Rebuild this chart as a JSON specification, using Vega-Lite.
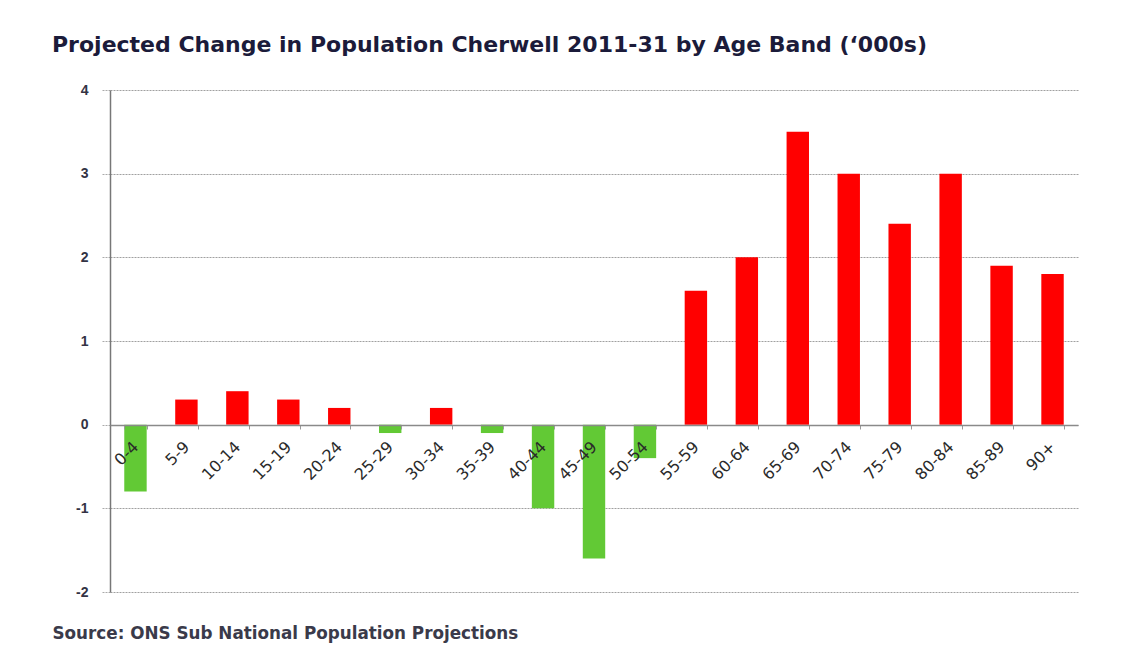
{
  "$schema": "https://vega.github.io/schema/vega-lite/v6.json",
  "width": 968,
  "height": 502,
  "autosize": {"type": "none"},
  "padding": {"left": 110, "top": 90, "right": 49, "bottom": 61},
  "background": "white",
  "title": {
    "text": "Projected Change in Population Cherwell 2011-31 by Age Band (‘000s)",
    "anchor": "start",
    "frame": "group",
    "dx": -58,
    "offset": 9,
    "baseline": "alphabetic",
    "font": "DejaVu Sans",
    "fontSize": 22,
    "fontWeight": "bold",
    "color": "#1b1b3a"
  },
  "data": {
    "values": [
      {"age": "0-4", "value": -0.8},
      {"age": "5-9", "value": 0.3},
      {"age": "10-14", "value": 0.4},
      {"age": "15-19", "value": 0.3},
      {"age": "20-24", "value": 0.2},
      {"age": "25-29", "value": -0.1},
      {"age": "30-34", "value": 0.2},
      {"age": "35-39", "value": -0.1},
      {"age": "40-44", "value": -1.0},
      {"age": "45-49", "value": -1.6},
      {"age": "50-54", "value": -0.4},
      {"age": "55-59", "value": 1.6},
      {"age": "60-64", "value": 2.0},
      {"age": "65-69", "value": 3.5},
      {"age": "70-74", "value": 3.0},
      {"age": "75-79", "value": 2.4},
      {"age": "80-84", "value": 3.0},
      {"age": "85-89", "value": 1.9},
      {"age": "90+", "value": 1.8}
    ]
  },
  "mark": {"type": "bar"},
  "encoding": {
    "x": {
      "field": "age",
      "type": "nominal",
      "sort": null,
      "scale": {"paddingInner": 0.56, "paddingOuter": 0.28},
      "axis": {
        "offset": -167,
        "zindex": 1,
        "labelAngle": -45,
        "labelAlign": "right",
        "labelBaseline": "middle",
        "labelPadding": 15,
        "labelOverlap": false,
        "labelFont": "DejaVu Sans",
        "labelFontSize": 16,
        "labelColor": "#2a2a2a",
        "domainColor": "#8a8a8a",
        "domainWidth": 1.5,
        "ticks": true,
        "tickBand": "extent",
        "tickColor": "#9a9a9a",
        "tickSize": 4,
        "title": "Source: ONS Sub National Population Projections",
        "titleFont": "DejaVu Sans",
        "titleFontSize": 16.8,
        "titleFontWeight": "bold",
        "titleColor": "#3a3a4a",
        "titleAnchor": "start",
        "titleAlign": "left",
        "titleBaseline": "alphabetic",
        "titleX": -58,
        "titleY": 213
      }
    },
    "y": {
      "field": "value",
      "type": "quantitative",
      "scale": {"domain": [-2, 4], "nice": false},
      "axis": {
        "values": [-2, -1, 0, 1, 2, 3, 4],
        "labelExpr": "'' + datum.value",
        "title": null,
        "labelFont": "Liberation Sans",
        "labelFontSize": 14,
        "labelFontWeight": "bold",
        "labelColor": "#333344",
        "labelPadding": 14,
        "tickSize": 8,
        "tickColor": "#aaaaaa",
        "tickDash": [2, 1],
        "domainColor": "#777777",
        "domainWidth": 1.5,
        "grid": true,
        "gridColor": "#a0a0a0",
        "gridDash": [2, 1],
        "gridWidth": 1
      }
    },
    "color": {
      "condition": {"test": "datum.value >= 0", "value": "#ff0000"},
      "value": "#62c935"
    }
  },
  "config": {"view": {"stroke": null}}
}
